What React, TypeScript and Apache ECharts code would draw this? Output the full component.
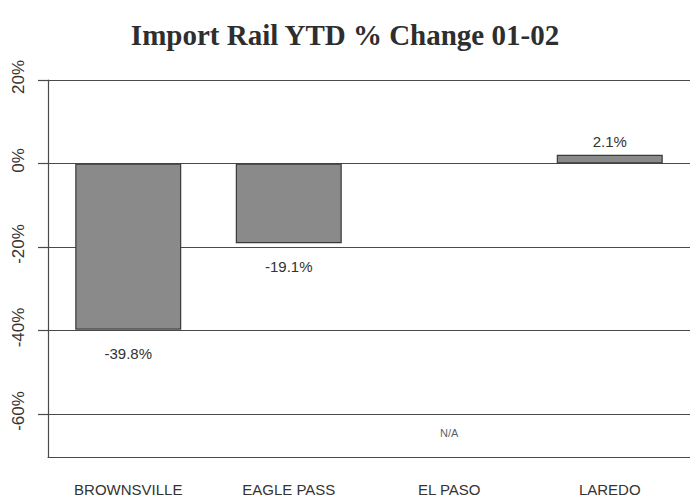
import React, { useEffect, useRef } from "react";
import * as echarts from "echarts";

const categories = ["BROWNSVILLE", "EAGLE PASS", "EL PASO", "LAREDO"];
const changeValues: (number | null)[] = [-39.8, -19.1, null, 2.1];
const naCategory = "EL PASO";
const naPosition = -64.5;
const yTicks = [-60, -40, -20, 0, 20];
const yMin = -70.3;
const yMax = 20;
const titleText = "Import Rail YTD % Change 01-02";

export default function App() {
  const ref = useRef<HTMLDivElement>(null);
  useEffect(() => {
    if (!ref.current) return;
    const chart = echarts.init(ref.current, null, { renderer: "svg" });
    const lineColor = "#4a4a4a";
    chart.setOption({
      animation: false,
      backgroundColor: "#ffffff",
      title: {
        text: titleText,
        left: "center",
        top: 15,
        textStyle: {
          fontFamily: "Liberation Serif",
          fontWeight: "bold",
          fontSize: 29,
          color: "#2e2e2e",
        },
      },
      grid: { left: 48, right: -12, top: 80, bottom: 43, containLabel: false },
      xAxis: {
        type: "category",
        data: categories,
        boundaryGap: true,
        axisLine: { onZero: false, lineStyle: { color: lineColor, width: 1.2 } },
        axisTick: { alignWithLabel: true, length: 10, lineStyle: { color: lineColor } },
        axisLabel: {
          margin: 25,
          fontFamily: "Liberation Sans",
          fontSize: 15,
          color: "#333",
          interval: 0,
        },
        splitLine: { show: false },
      },
      yAxis: {
        type: "value",
        min: yMin,
        max: yMax,
        axisLine: { show: true, lineStyle: { color: lineColor, width: 1.2 } },
        axisTick: {
          show: true,
          length: 10,
          customValues: yTicks,
          lineStyle: { color: lineColor, width: 1.2 },
        },
        axisLabel: {
          customValues: yTicks,
          rotate: 90,
          margin: 30,
          align: "center",
          verticalAlign: "middle",
          padding: [0, 0, 0, 6],
          formatter: (v: number) => `${v}%`,
          fontFamily: "Liberation Sans",
          fontSize: 17,
          color: "#333",
        },
        splitLine: { show: true, lineStyle: { color: lineColor, width: 1.2 } },
      },
      series: [
        {
          type: "bar",
          barWidth: 106,
          data: changeValues.map((v) =>
            v === null
              ? "-"
              : {
                  value: v,
                  label: {
                    show: true,
                    position: v < 0 ? "bottom" : "top",
                    distance: v < 0 ? 16 : 6,
                  },
                }
          ),
          itemStyle: { color: "#8a8a8a", borderColor: "#3a3a3a", borderWidth: 1.2 },
          label: {
            formatter: (p: any) => `${p.value}%`,
            fontFamily: "Liberation Sans",
            fontSize: 15,
            color: "#333",
          },
          z: 3,
        },
        {
          type: "scatter",
          symbolSize: 0,
          data: [[naCategory, naPosition]],
          label: {
            show: true,
            position: "inside",
            formatter: "N/A",
            fontFamily: "Liberation Sans",
            fontSize: 11,
            color: "#333",
          },
        },
      ],
    });
    return () => chart.dispose();
  }, []);
  return (
    <div
      ref={ref}
      style={{ position: "fixed", left: 0, top: 0, width: 690, height: 500 }}
    />
  );
}
